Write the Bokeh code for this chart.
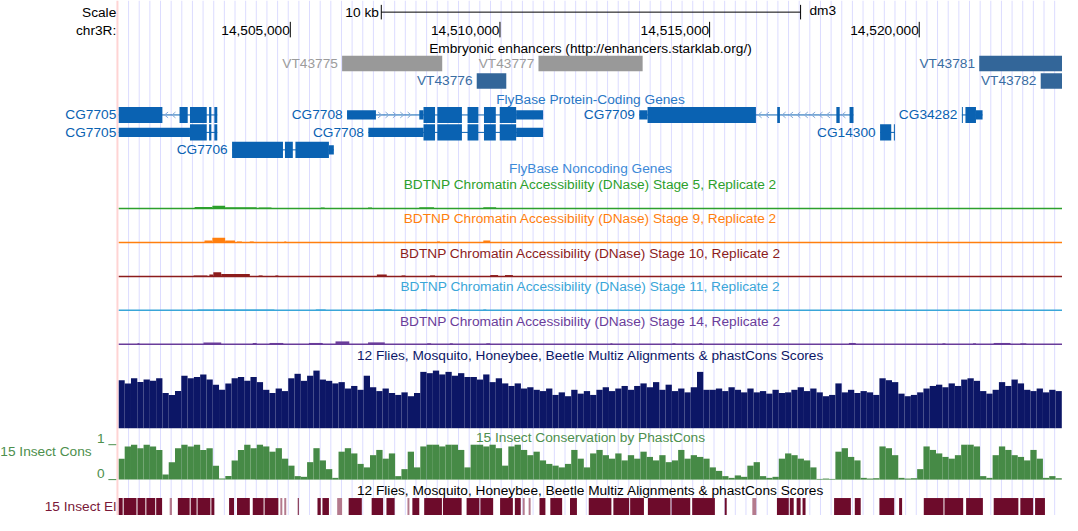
from bokeh.plotting import figure
from bokeh.models import Range1d
from bokeh.core.properties import value
from bokeh.embed import file_html
from bokeh.resources import INLINE

# ---------------- data ----------------
chrom_name = "chr3R"
assembly = "dm3"
view_start = 14500908
view_end = 14523410
axis_ticks = [14505000, 14510000, 14515000, 14520000]
scale_bar_start = 14507170
scale_bar_bp = 10000

enh_title = "Embryonic enhancers (http://enhancers.starklab.org/)"
enh_names = ["VT43775", "VT43777", "VT43776", "VT43781", "VT43782"]
enh_starts = [14506235, 14510919, 14509446, 14521431, 14522897]
enh_ends = [14508623, 14513403, 14510151, 14523600, 14523600]
enh_active = [False, False, True, True, True]
enh_row = [0, 0, 1, 0, 1]

gene_title = "FlyBase Protein-Coding Genes"
nc_title = "FlyBase Noncoding Genes"
tx_names = ["CG7705", "CG7705", "CG7706", "CG7708", "CG7708", "CG7709", "CG14300", "CG34282"]
tx_row = [0, 1, 2, 0, 1, 0, 1, 0]
tx_strand = ["-", "-", "+", "+", "+", "-", "-", "-"]
tx_exon_starts = [
    [14500500, 14502358, 14502607, 14503063, 14503188],
    [14500500, 14503063, 14503188],
    [14503611, 14504872, 14505122],
    [14506353, 14508076, 14508506, 14509227, 14509619, 14509995],
    [14506861, 14508506, 14509227, 14509619, 14509995],
    [14513323, 14516613, 14518023, 14518338],
    [14519066, 14519395],
    [14521017, 14521102],
]
tx_exon_ends = [
    [14501949, 14502553, 14503007, 14503117, 14503258],
    [14503007, 14503117, 14503258],
    [14504825, 14505060, 14506038],
    [14507042, 14508452, 14509093, 14509486, 14509901, 14511029],
    [14508452, 14509093, 14509486, 14509901, 14511029],
    [14516105, 14516677, 14518103, 14518432],
    [14519332, 14519419],
    [14521040, 14521510],
]
tx_cds_start = [14500500, 14502607, 14503611, 14508177, 14508177, 14513520, 14519066, 14521017]
tx_cds_end = [14503258, 14503258, 14505921, 14510386, 14510386, 14518432, 14519419, 14521353]

dnase_titles = [
    "BDTNP Chromatin Accessibility (DNase) Stage 5, Replicate 2",
    "BDTNP Chromatin Accessibility (DNase) Stage 9, Replicate 2",
    "BDTNP Chromatin Accessibility (DNase) Stage 10, Replicate 2",
    "BDTNP Chromatin Accessibility (DNase) Stage 11, Replicate 2",
    "BDTNP Chromatin Accessibility (DNase) Stage 14, Replicate 2",
]
dnase_starts = [
    [14502718, 14503141, 14503446, 14504245, 14505726, 14506854, 14508076, 14509603],
    [14502953, 14503141, 14503446, 14503728, 14504034, 14504856, 14508499, 14509603],
    [14502694, 14503070, 14503164, 14503352, 14503681, 14504245, 14504645, 14507065,
     14507653, 14508334, 14509768, 14510120],
    [14502788, 14505608, 14507018, 14508123, 14508828, 14509603],
    [14501355, 14502929, 14504104, 14504504, 14505444, 14506078, 14506854, 14508264,
     14508804, 14509674, 14512635, 14514115, 14514750, 14518322, 14520554, 14521283,
     14521776, 14522411],
]
dnase_ends = [
    [14503141, 14503446, 14504198, 14504551, 14505820, 14506948, 14508428, 14509909],
    [14503141, 14503446, 14503681, 14503846, 14504128, 14504903, 14508569, 14509768],
    [14503023, 14503164, 14503352, 14503681, 14504034, 14504339, 14504715, 14507300,
     14507747, 14508452, 14509956, 14510308],
    [14504621, 14505843, 14507418, 14508264, 14508969, 14509674],
    [14501402, 14503352, 14504198, 14504833, 14505773, 14506407, 14507253, 14508358,
     14508875, 14509768, 14512682, 14514186, 14514820, 14518486, 14520625, 14521353,
     14522176, 14522552],
]
dnase_values = [
    [0.08, 0.15, 0.07, 0.05, 0.05, 0.05, 0.07, 0.07],
    [0.10, 0.25, 0.10, 0.05, 0.05, 0.05, 0.05, 0.10],
    [0.05, 0.10, 0.22, 0.12, 0.12, 0.05, 0.05, 0.10, 0.05, 0.05, 0.07, 0.07],
    [0.05, 0.05, 0.05, 0.05, 0.05, 0.05],
    [0.05, 0.10, 0.07, 0.07, 0.07, 0.15, 0.10, 0.05, 0.05, 0.05, 0.05, 0.05,
     0.05, 0.07, 0.05, 0.05, 0.07, 0.05],
]

multiz_title = "12 Flies, Mosquito, Honeybee, Beetle Multiz Alignments & phastCons Scores"
bin_start = 14500900
bin_bp = 150
multiz_scores = [
    0.75, 0.70, 0.78, 0.72, 0.76, 0.74, 0.78, 0.55, 0.52, 0.58,
    0.82, 0.78, 0.80, 0.84, 0.76, 0.68, 0.60, 0.70, 0.78, 0.80,
    0.74, 0.80, 0.72, 0.60, 0.55, 0.62, 0.58, 0.78, 0.85, 0.74,
    0.82, 0.90, 0.76, 0.74, 0.70, 0.72, 0.62, 0.66, 0.60, 0.82,
    0.64, 0.58, 0.62, 0.55, 0.52, 0.56, 0.50, 0.55, 0.88, 0.86,
    0.90, 0.84, 0.88, 0.82, 0.86, 0.80, 0.80, 0.76, 0.84, 0.72,
    0.78, 0.70, 0.66, 0.70, 0.62, 0.64, 0.60, 0.58, 0.62, 0.52,
    0.56, 0.50, 0.60, 0.54, 0.58, 0.52, 0.60, 0.64, 0.58, 0.62,
    0.66, 0.60, 0.66, 0.70, 0.64, 0.72, 0.60, 0.68, 0.58, 0.62,
    0.56, 0.64, 0.88, 0.60, 0.60, 0.62, 0.58, 0.64, 0.60, 0.56,
    0.62, 0.56, 0.58, 0.54, 0.60, 0.55, 0.56, 0.60, 0.64, 0.58,
    0.62, 0.56, 0.50, 0.52, 0.70, 0.56, 0.60, 0.55, 0.58, 0.56,
    0.52, 0.78, 0.75, 0.72, 0.54, 0.50, 0.52, 0.56, 0.62, 0.66,
    0.68, 0.64, 0.70, 0.66, 0.76, 0.78, 0.74, 0.58, 0.54, 0.60,
    0.72, 0.66, 0.76, 0.70, 0.60, 0.58, 0.62, 0.56, 0.60, 0.58,
]

phast_title = "15 Insect Conservation by PhastCons"
phast_label = "15 Insect Cons"
phast_scores = [
    0.60, 0.95, 1.00, 0.90, 1.00, 0.95, 0.85, 0.15, 0.50, 0.90,
    1.00, 0.95, 1.00, 0.85, 0.90, 0.40, 0.03, 0.10, 0.55, 0.85,
    1.00, 0.90, 1.00, 0.95, 0.80, 0.90, 0.60, 0.40, 0.10, 0.08,
    0.50, 0.90, 0.55, 0.30, 0.05, 0.80, 0.90, 0.75, 0.45, 0.35,
    0.70, 0.85, 0.60, 0.75, 0.10, 0.30, 0.80, 0.35, 0.95, 1.00,
    1.00, 0.95, 1.00, 1.00, 0.85, 0.35, 1.00, 1.00, 0.95, 1.00,
    0.90, 0.40, 0.95, 1.00, 0.85, 0.70, 0.80, 0.55, 0.45, 0.40,
    0.35, 0.45, 0.85, 0.60, 0.35, 0.75, 0.85, 0.70, 0.60, 0.75,
    0.55, 0.70, 0.60, 0.80, 0.65, 0.55, 0.70, 0.50, 0.55, 0.85,
    0.60, 0.70, 0.65, 0.60, 0.35, 0.25, 0.10, 0.05, 0.12, 0.08,
    0.40, 0.50, 0.10, 0.05, 0.08, 0.60, 0.75, 0.70, 0.60, 0.55,
    0.35, 0.02, 0.03, 0.02, 0.80, 0.90, 0.65, 0.55, 0.05, 0.03,
    0.04, 0.95, 0.90, 0.70, 0.05, 0.03, 0.04, 0.30, 0.95, 0.85,
    0.75, 0.65, 0.60, 0.70, 1.00, 1.00, 0.95, 0.10, 0.05, 0.70,
    0.95, 0.85, 0.70, 0.65, 0.55, 0.85, 0.60, 0.05, 0.10, 0.04,
]
phast_axis_labels = ["1", "0"]

elem_title = "12 Flies, Mosquito, Honeybee, Beetle Multiz Alignments & phastCons Scores"
elem_label = "15 Insect El"
elem_starts = [
    14500908, 14501026, 14501355, 14501566, 14501801, 14502123, 14502318, 14502624,
    14502788, 14503117, 14503540, 14503728, 14504104, 14504386, 14504762, 14504856,
    14505178, 14505648, 14505766, 14506118, 14506391, 14506940, 14507293, 14507794,
    14507911, 14508193, 14508640, 14509204, 14509533, 14510003, 14510355, 14510543,
    14510684, 14510943, 14511201, 14511671, 14512118, 14512705, 14513105, 14513528,
    14514092, 14514585, 14515361, 14516019, 14516606, 14516912, 14517076, 14517217,
    14517969, 14518463, 14519050, 14519520, 14520108, 14520601, 14521118, 14521776,
    14522411, 14522763,
]
elem_ends = [
    14501002, 14501331, 14501543, 14501778, 14501942, 14502177, 14502600, 14502765,
    14503094, 14503188, 14503658, 14504034, 14504363, 14504715, 14504809, 14504903,
    14505201, 14505726, 14505921, 14506235, 14506705, 14507213, 14507488, 14507841,
    14508076, 14508616, 14509086, 14509509, 14509838, 14510308, 14510496, 14510590,
    14510731, 14511084, 14511483, 14511836, 14512658, 14513081, 14513434, 14514068,
    14514538, 14515126, 14515408, 14516113, 14516888, 14517006, 14517170, 14517288,
    14518369, 14518604, 14519403, 14519591, 14520578, 14521048, 14521518, 14522364,
    14522716, 14522998,
]
elem_strong = [
    1, 1, 1, 1, 1, 0, 1, 1, 1, 1, 1, 1, 1, 1, 0, 0,
    1, 1, 1, 0, 1, 1, 1, 0, 1, 1, 1, 1, 1, 1, 1, 0,
    0, 1, 1, 1, 1, 1, 1, 1, 1, 1, 1, 0, 1, 1, 1, 1,
    1, 1, 1, 1, 1, 1, 1, 1, 1, 1,
]

# ---------------- layout (reference pixel space) ----------------
REF_W, REF_H = 1078, 531
BPPX = 23.496
X_LEFT = 14498088.0


def gx(px):
    return X_LEFT + px * BPPX


FONT = value("Liberation Sans")
FS = value("13.7px")

Y_SCALE, Y_CHR = 12, 31
Y_ENH_TITLE, ENH_ROWS, ENH_HALF = 50, [65, 83], 8
Y_GENE_TITLE, GENE_ROWS, THICK, THIN = 102, [118, 136, 154], 8.3, 4.8
Y_NC_TITLE = 173
DNASE_TITLE_Y = [190, 225, 260.5, 295, 330.5]
DNASE_BASE_Y = [214.5, 249.5, 284.5, 319.5, 354.5]
DNASE_PX = 20.0
Y_MZ_TITLE, MZ_BASE, MZ_TOP = 366, 441, 375
Y_PH_TITLE, PH_BASE, PH_TOP = 451, 494, 458
Y_EL_TITLE, EL_TOP, EL_BOT = 505.5, 513, 531

GENE_C = "#0a62b2"
CHEV_C = "#86aadb"
DNASE_C = ["#2ca02c", "#ff7f0e", "#8c1c1c", "#3aa6d8", "#6a3d9a"]
MZ_C = "#0c1666"
PH_C = "#468a46"
PH_TXT = "#4d8f4d"
EL_C = "#6d0b2b"
EL_LIGHT = "#b47a8d"


def track_range(base, top, vmax=1.0):
    span = base - top
    return Range1d(start=vmax * (base - REF_H) / span, end=vmax * base / span)


p = figure(width=1062, height=515,
           x_range=Range1d(X_LEFT, X_LEFT + REF_W * BPPX),
           y_range=Range1d(REF_H, 0),
           output_backend="svg", toolbar_location=None, min_border=0,
           x_axis_location=None, y_axis_location=None,
           background_fill_color="white", border_fill_color="white")
p.xgrid.visible = False
p.ygrid.visible = False
p.outline_line_color = None

p.extra_y_ranges = {"mz": track_range(MZ_BASE, MZ_TOP),
                    "ph": track_range(PH_BASE, PH_TOP)}
for i, b in enumerate(DNASE_BASE_Y):
    p.extra_y_ranges["dn%d" % i] = track_range(b, b - DNASE_PX)


def text(xs, ys, ts, color, align="center"):
    p.text(x=xs, y=ys, text=ts, text_color=color, text_align=align,
           text_baseline="middle", text_font=FONT, text_font_size=FS)


# guidelines
guide_x = [gx(130 + k * 10.805) for k in range(88)]
p.segment(x0=guide_x, y0=[0] * 88, x1=guide_x, y1=[REF_H] * 88,
          line_color="#dcdcff", line_width=1)
p.segment(x0=[gx(118.7)], y0=[0], x1=[gx(118.7)], y1=[REF_H],
          line_color="#ffd4d4", line_width=2)

center_x = (view_start + view_end) / 2

# ---- header ----
text([gx(117.5), gx(117.5)], [Y_SCALE, Y_CHR], ["Scale", chrom_name + ":"], "black", "right")
sb_end = scale_bar_start + scale_bar_bp
p.segment(x0=[scale_bar_start, scale_bar_start, sb_end], y0=[Y_SCALE, 4.5, 4.5],
          x1=[sb_end, scale_bar_start, sb_end], y1=[Y_SCALE, 19.5, 19.5],
          line_color="black", line_width=1)
text([scale_bar_start - 2.5 * BPPX], [Y_SCALE], ["%d kb" % (scale_bar_bp // 1000)], "black", "right")
text([sb_end + 9 * BPPX], [Y_SCALE - 2], [assembly], "black", "left")
p.segment(x0=axis_ticks, y0=[22] * len(axis_ticks), x1=axis_ticks, y1=[38] * len(axis_ticks),
          line_color="black", line_width=1)
text([t - 0.5 * BPPX for t in axis_ticks], [Y_CHR] * len(axis_ticks),
     ["{:,}".format(t) for t in axis_ticks], "black", "right")

# ---- enhancers ----
text([center_x], [Y_ENH_TITLE], [enh_title], "black")
for act, col in [(False, "#999999"), (True, "#336699")]:
    idx = [i for i in range(len(enh_names)) if enh_active[i] == act]
    ys = [ENH_ROWS[enh_row[i]] for i in idx]
    p.quad(left=[max(enh_starts[i], view_start) for i in idx],
           right=[min(enh_ends[i], view_end) for i in idx],
           top=[y - ENH_HALF for y in ys], bottom=[y + ENH_HALF for y in ys],
           fill_color=col, line_color=None)
    text([enh_starts[i] - 4.3 * BPPX for i in idx], ys, [enh_names[i] for i in idx],
         "#9c9c9c" if not act else "#3a6da3", "right")

# ---- genes ----
text([center_x], [Y_GENE_TITLE], [gene_title], "#2a78c6")
thick_q = {"l": [], "r": [], "t": [], "b": []}
thin_q = {"l": [], "r": [], "t": [], "b": []}
bb_x0, bb_x1, bb_y = [], [], []
chev_xs, chev_ys = [], []
lab_x, lab_y, lab_t = [], [], []
for k in range(len(tx_names)):
    yc = GENE_ROWS[tx_row[k]]
    es, ee = tx_exon_starts[k], tx_exon_ends[k]
    cs, ce = tx_cds_start[k], tx_cds_end[k]
    s0 = max(es[0], view_start)
    bb_x0.append(s0); bb_x1.append(min(ee[-1], view_end)); bb_y.append(yc)
    for s, e in zip(es, ee):
        s, e = max(s, view_start), min(e, view_end)
        ts, te = max(s, cs), min(e, ce)
        if te > ts:
            for d, v in zip("lrtb", [ts, te, yc - THICK, yc + THICK]):
                thick_q[d].append(v)
        for a, b in [(s, min(e, cs)), (max(s, ce), e)]:
            if b > a:
                for d, v in zip("lrtb", [a, b, yc - THIN, yc + THIN]):
                    thin_q[d].append(v)
    for a, b in zip(ee[:-1], es[1:]):
        gap = (b - a) / BPPX
        if gap > 9:
            c = a + 4 * BPPX
            while c < b - 3 * BPPX:
                w = 1.8 * BPPX if tx_strand[k] == "+" else -1.8 * BPPX
                chev_xs.append([c - w, c + w, c - w])
                chev_ys.append([yc - 3, yc, yc + 3])
                c += 7.5 * BPPX
    gap_lab = 4.5 if es[0] >= view_start else 2.5
    lab_x.append(s0 - gap_lab * BPPX); lab_y.append(yc); lab_t.append(tx_names[k])

p.segment(x0=bb_x0, y0=bb_y, x1=bb_x1, y1=bb_y, line_color=GENE_C, line_width=1)
p.multi_line(xs=chev_xs, ys=chev_ys, line_color=CHEV_C, line_width=1)
p.quad(left=thin_q["l"], right=thin_q["r"], top=thin_q["t"], bottom=thin_q["b"],
       fill_color=GENE_C, line_color=None)
p.quad(left=thick_q["l"], right=thick_q["r"], top=thick_q["t"], bottom=thick_q["b"],
       fill_color=GENE_C, line_color=None)
text(lab_x, lab_y, lab_t, GENE_C, "right")

text([center_x], [Y_NC_TITLE], [nc_title], "#3d8ad8")

# ---- DNase tracks ----
for i in range(len(dnase_titles)):
    rn = "dn%d" % i
    text([center_x], [DNASE_TITLE_Y[i]], [dnase_titles[i]], DNASE_C[i])
    p.segment(x0=[view_start], y0=[0], x1=[view_end], y1=[0], y_range_name=rn,
              line_color=DNASE_C[i], line_width=1.5)
    p.quad(left=dnase_starts[i], right=dnase_ends[i], bottom=[0] * len(dnase_values[i]),
           top=dnase_values[i], y_range_name=rn, fill_color=DNASE_C[i], line_color=None)

# ---- multiz ----
n_bins = len(multiz_scores)
bl = [bin_start + j * bin_bp for j in range(n_bins)]
br = [min(bin_start + (j + 1) * bin_bp, view_end) for j in range(n_bins)]
bl[0] = max(bl[0], view_start)
text([center_x], [Y_MZ_TITLE], [multiz_title], MZ_C)
p.quad(left=bl, right=br, bottom=[0] * n_bins, top=multiz_scores, y_range_name="mz",
       fill_color=MZ_C, line_color=None)

# ---- phastCons ----
text([center_x], [Y_PH_TITLE], [phast_title], PH_TXT)
p.quad(left=bl, right=br, bottom=[0] * n_bins, top=phast_scores, y_range_name="ph",
       fill_color=PH_C, line_color=None)
text([gx(92.5)], [465], [phast_label], PH_TXT, "right")
text([gx(105.8), gx(105.8)], [452, 487.5], phast_axis_labels, PH_TXT, "right")
p.segment(x0=[gx(109.5)] * 2, y0=[1, 0], x1=[gx(117.5)] * 2, y1=[1, 0],
          y_range_name="ph", line_color=PH_TXT, line_width=1)

# ---- elements ----
text([center_x], [Y_EL_TITLE], [elem_title], "black")
text([gx(117.5)], [521.5], [elem_label], "#7a1838", "right")
for strong, col in [(1, EL_C), (0, EL_LIGHT)]:
    idx = [i for i in range(len(elem_starts)) if elem_strong[i] == strong]
    p.quad(left=[elem_starts[i] for i in idx], right=[elem_ends[i] for i in idx],
           top=[EL_TOP] * len(idx), bottom=[EL_BOT] * len(idx),
           fill_color=col, line_color=None)

open("out.html", "w").write(file_html(p, INLINE))
